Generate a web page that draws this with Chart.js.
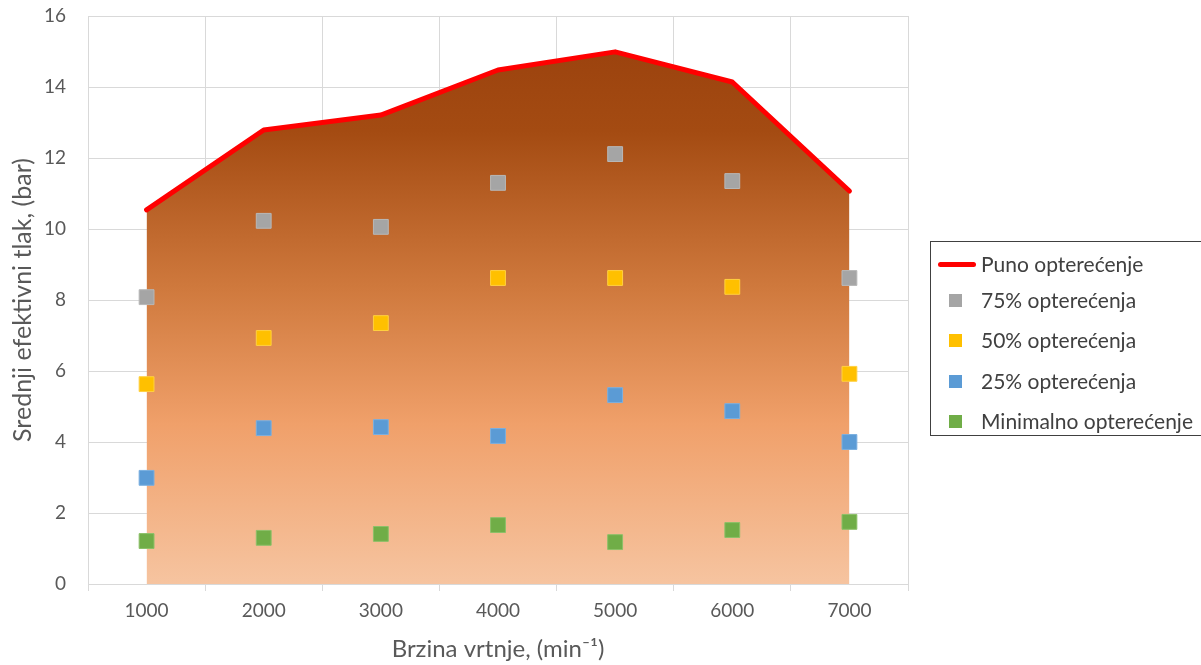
<!DOCTYPE html>
<html>
<head>
<meta charset="utf-8">
<script src="https://cdn.jsdelivr.net/npm/chart.js@4/dist/chart.umd.min.js"></script>
<style>
  body { margin: 0; background: #fff; font-family: Lato, sans-serif; }
  #wrap { position: relative; width: 1201px; height: 665px; overflow: hidden; }
  #legend {
    position: absolute; left: 930px; top: 241px; width: 290px; height: 195px;
    border: 1px solid #404040; box-sizing: border-box;
    font-size: 21px; color: #404040;
  }
  .item { position: absolute; left: 0; height: 26px; line-height: 26px; white-space: nowrap; }
  .item span.txt { position: absolute; left: 50px; top: 0; }
  .item span.line { position: absolute; left: 7px; top: 11px; width: 38px; height: 5px; background: #ff0000; border-radius: 3px; }
  .item span.box { position: absolute; left: 18px; top: 7px; width: 13px; height: 13px; }
</style>
</head>
<body>
<div id="wrap">
  <canvas id="myChart" width="1201" height="665"></canvas>
  <div id="legend"></div>
</div>
<script>
const labels = ['1000', '2000', '3000', '4000', '5000', '6000', '7000'];
const punoData = [10.54, 12.79, 13.21, 14.48, 14.99, 14.14, 11.07];
const data75 = [8.08, 10.23, 10.06, 11.30, 12.11, 11.35, 8.62];
const data50 = [5.63, 6.93, 7.35, 8.62, 8.62, 8.37, 5.92];
const data25 = [2.99, 4.39, 4.42, 4.17, 5.32, 4.87, 4.00];
const dataMin = [1.21, 1.30, 1.41, 1.66, 1.18, 1.52, 1.75];
const yTicks = [0, 2, 4, 6, 8, 10, 12, 14, 16];

const ctx = document.getElementById('myChart').getContext('2d');

// gradijent ispune ispod krivulje punog opterećenja
function fillGradient(context) {
    const chart = context.chart;
    if (!chart.chartArea) return '#d08040';
    const y = chart.scales.y;
    const g = chart.ctx.createLinearGradient(0, y.getPixelForValue(15), 0, y.getPixelForValue(0));
    g.addColorStop(0, '#9c430e');
    g.addColorStop(0.15, '#a44b12');
    g.addColorStop(0.45, '#d07a3e');
    g.addColorStop(0.7, '#f0a06a');
    g.addColorStop(1, '#f6c4a0');
    return g;
}

function scatterSet(label, data, color, border) {
    return {
        label: label,
        data: data,
        showLine: false,
        pointStyle: 'rect',
        pointRadius: 10.5,
        pointHoverRadius: 10.5,
        pointBackgroundColor: color,
        pointBorderColor: border,
        pointBorderWidth: 1,
        backgroundColor: color,
        borderColor: color
    };
}

const datasets = [
    {
        label: 'Puno opterećenje',
        data: punoData,
        borderColor: '#ff0000',
        borderWidth: 5,
        borderCapStyle: 'round',
        borderJoinStyle: 'round',
        pointRadius: 0,
        tension: 0,
        fill: 'origin',
        backgroundColor: fillGradient
    },
    scatterSet('75% opterećenja', data75, '#a5a5a5', '#b8b8b8'),
    scatterSet('50% opterećenja', data50, '#ffc000', '#ffd040'),
    scatterSet('25% opterećenja', data25, '#5b9bd5', '#7aafe0'),
    scatterSet('Minimalno opterećenje', dataMin, '#70ad47', '#8cc068')
];

new Chart(ctx, {
    type: 'line',
    data: { labels: labels, datasets: datasets },
    options: {
        responsive: false,
        animation: false,
        layout: { padding: { left: 0, right: 293, top: 16, bottom: 0 } },
        plugins: {
            legend: { display: false },
            tooltip: { enabled: false },
            filler: { drawTime: 'beforeDatasetsDraw' }
        },
        scales: {
            x: {
                offset: true,
                grid: { offset: true, color: '#d9d9d9', lineWidth: 1, tickLength: 7, drawTicks: true },
                border: { color: '#d9d9d9' },
                ticks: { color: '#595959', font: { family: 'Lato', size: 19 }, padding: 8 },
                title: {
                    display: true,
                    text: 'Brzina vrtnje, (min\u207B\u00B9)',
                    color: '#595959',
                    font: { family: 'Lato', size: 24 },
                    padding: { top: 2, bottom: 1 }
                },
                afterFit: function(scale) { scale.height = 81; }
            },
            y: {
                min: 0,
                max: 16,
                afterBuildTicks: function(scale) { scale.ticks = yTicks.map(v => ({ value: v })); },
                grid: { color: '#d9d9d9', lineWidth: 1, drawTicks: false },
                border: { display: false },
                ticks: { color: '#595959', font: { family: 'Lato', size: 19 }, padding: 22 },
                title: {
                    display: true,
                    text: 'Srednji efektivni tlak, (bar)',
                    color: '#595959',
                    font: { family: 'Lato', size: 25 },
                    padding: { top: 8, bottom: 4 }
                },
                afterFit: function(scale) {
                    scale.width = 88;
                    scale.paddingTop = 0;
                    scale.paddingBottom = 0;
                }
            }
        }
    }
});

// legenda
const legend = document.getElementById('legend');
const rowTops = [9, 45, 85, 126, 166];
datasets.forEach(function(ds, i) {
    const item = document.createElement('div');
    item.className = 'item';
    item.style.top = rowTops[i] + 'px';
    const mark = document.createElement('span');
    if (i === 0) {
        mark.className = 'line';
    } else {
        mark.className = 'box';
        mark.style.background = ds.pointBackgroundColor;
    }
    const txt = document.createElement('span');
    txt.className = 'txt';
    txt.textContent = ds.label;
    item.appendChild(mark);
    item.appendChild(txt);
    legend.appendChild(item);
});
</script>
</body>
</html>
